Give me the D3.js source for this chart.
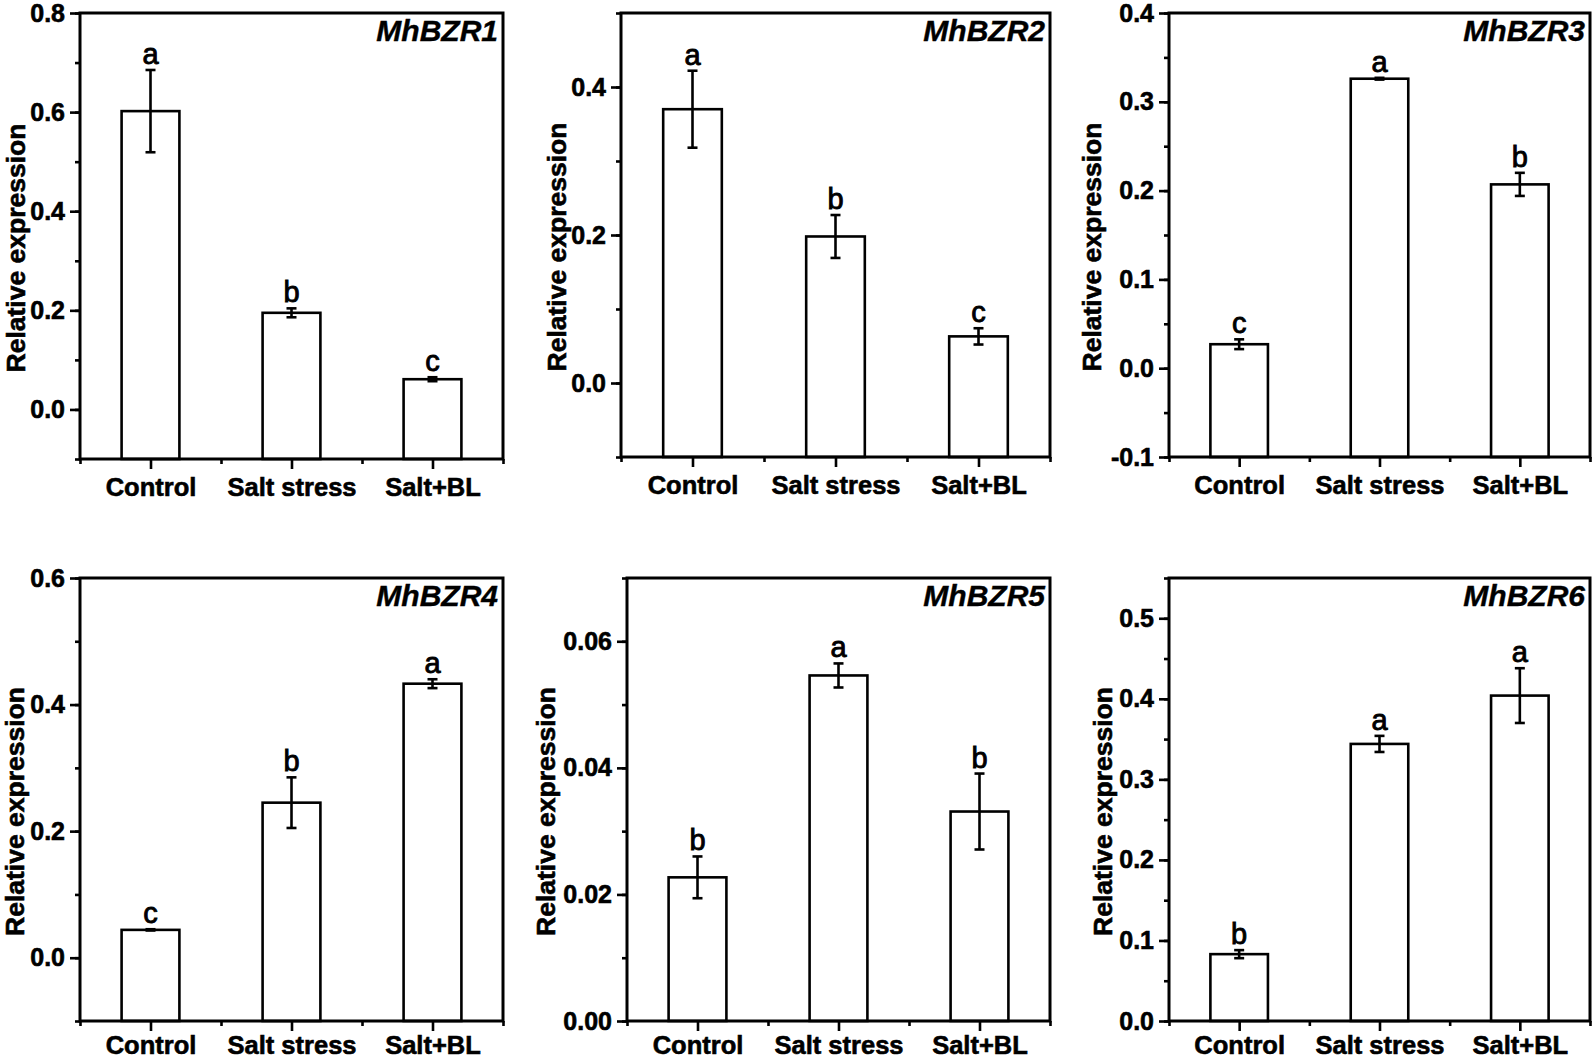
<!DOCTYPE html>
<html>
<head>
<meta charset="utf-8">
<script src="https://cdn.jsdelivr.net/npm/d3@7"></script>
<style>
  body { margin: 0; background: #fff; }
  text { font-family: "Liberation Sans", Arial, sans-serif; }
</style>
</head>
<body>
<div id="chart"></div>
<script>
// values
var categories = ["Control", "Salt stress", "Salt+BL"];
var genes = ["MhBZR1", "MhBZR2", "MhBZR3", "MhBZR4", "MhBZR5", "MhBZR6"];

var means = [
  [0.602, 0.195, 0.061],
  [0.370, 0.198, 0.063],
  [0.027, 0.326, 0.207],
  [0.044, 0.245, 0.433],
  [0.0227, 0.0546, 0.0331],
  [0.083, 0.344, 0.404]
];
var errors = [
  [0.083, 0.009, 0.004],
  [0.052, 0.029, 0.011],
  [0.0055, 0.001, 0.013],
  [0.001, 0.040, 0.007],
  [0.0033, 0.0019, 0.006],
  [0.005, 0.010, 0.034]
];
var letters = [
  ["a", "b", "c"],
  ["a", "b", "c"],
  ["c", "a", "b"],
  ["c", "b", "a"],
  ["b", "a", "b"],
  ["b", "a", "a"]
];
var yDomains = [[-0.1, 0.8], [-0.1, 0.5], [-0.1, 0.4], [-0.1, 0.6], [0, 0.07], [0, 0.55]];
var yTickLabels = [
  ["0.0", "0.2", "0.4", "0.6", "0.8"],
  ["0.0", "0.2", "0.4"],
  ["-0.1", "0.0", "0.1", "0.2", "0.3", "0.4"],
  ["0.0", "0.2", "0.4", "0.6"],
  ["0.00", "0.02", "0.04", "0.06"],
  ["0.0", "0.1", "0.2", "0.3", "0.4", "0.5"]
];
var minorSteps = [0.1, 0.1, 0.05, 0.1, 0.01, 0.05];

// panel frames in page pixels
var frames = [
  {x0: 80,   x1: 503,  y0: 13,  y1: 459,  lab: 55, pad: 8.5},
  {x0: 621,  x1: 1050, y0: 13,  y1: 457,  lab: 55, pad: 8.5},
  {x0: 1169, x1: 1590, y0: 13,  y1: 457,  lab: 68, pad: 8.5},
  {x0: 80,   x1: 503,  y0: 578, y1: 1021, lab: 56, pad: 5},
  {x0: 627,  x1: 1050, y0: 578, y1: 1021, lab: 72, pad: 5},
  {x0: 1169, x1: 1590, y0: 578, y1: 1021, lab: 57, pad: 5}
];

var svg = d3.select("#chart")
            .append("svg")
            .attr("width", 1594)
            .attr("height", 1060);

function boldText(sel, size) {
    sel.attr("font-size", size)
       .attr("font-weight", "bold")
       .attr("font-family", "Liberation Sans, Arial, sans-serif")
       .attr("fill", "#000")
       .attr("stroke", "#000")
       .attr("stroke-width", 0.6);
}

genes.forEach(function(gene, p) {
    var f = frames[p];
    var g = svg.append("g");

    var x = d3.scaleLinear().domain([0.5, 3.5]).range([f.x0, f.x1]);
    var y = d3.scaleLinear().domain(yDomains[p]).range([f.y1, f.y0]);
    var barW = 0.41 * (f.x1 - f.x0) / 3;

    var majors = yTickLabels[p].map(Number);
    var d0 = yDomains[p][0], d1 = yDomains[p][1], st = minorSteps[p];
    var minors = d3.range(0, Math.round((d1 - d0) / st) + 1).map(function(i) {
        return +(d0 + i * st).toFixed(4);
    });

    // minor y ticks
    g.append("g")
     .attr("transform", "translate(" + f.x0 + ",0)")
     .call(d3.axisLeft(y).tickValues(minors).tickSize(5).tickFormat(""))
     .call(function(a) { a.select(".domain").remove(); });

    // major y ticks
    var ya = g.append("g")
     .attr("transform", "translate(" + f.x0 + ",0)")
     .call(d3.axisLeft(y).tickValues(majors).tickSize(10).tickPadding(5)
           .tickFormat(function(d, i) { return yTickLabels[p][i]; }));
    ya.select(".domain").remove();
    boldText(ya.selectAll("text"), "25px");

    // x ticks
    g.append("g")
     .attr("transform", "translate(0," + f.y1 + ")")
     .call(d3.axisBottom(x).tickValues([0.5, 1.5, 2.5, 3.5]).tickSize(5).tickFormat(""))
     .call(function(a) { a.select(".domain").remove(); });
    var xa = g.append("g")
     .attr("transform", "translate(0," + f.y1 + ")")
     .call(d3.axisBottom(x).tickValues([1, 2, 3]).tickSize(10).tickPadding(f.pad)
           .tickFormat(function(d) { return categories[d - 1]; }));
    xa.select(".domain").remove();
    boldText(xa.selectAll("text"), "25.5px");

    g.selectAll(".tick line")
     .attr("stroke", "#000")
     .attr("stroke-width", 2.6);

    // bars
    g.selectAll("rect.bar")
     .data(means[p])
     .enter()
     .append("rect")
     .attr("class", "bar")
     .attr("x", function(d, i) { return x(i + 1) - barW / 2; })
     .attr("y", function(d) { return y(d); })
     .attr("width", barW)
     .attr("height", function(d) { return f.y1 - y(d); })
     .attr("fill", "#fff")
     .attr("stroke", "#000")
     .attr("stroke-width", 2.6);

    // error bars
    var eb = g.selectAll("g.err")
              .data(means[p])
              .enter()
              .append("g")
              .attr("stroke", "#000")
              .attr("stroke-width", 2.6);
    eb.append("line")
      .attr("x1", function(d, i) { return x(i + 1); })
      .attr("x2", function(d, i) { return x(i + 1); })
      .attr("y1", function(d, i) { return y(d + errors[p][i]); })
      .attr("y2", function(d, i) { return y(d - errors[p][i]); });
    [1, -1].forEach(function(sgn) {
        eb.append("line")
          .attr("x1", function(d, i) { return x(i + 1) - 5; })
          .attr("x2", function(d, i) { return x(i + 1) + 5; })
          .attr("y1", function(d, i) { return y(d + sgn * errors[p][i]); })
          .attr("y2", function(d, i) { return y(d + sgn * errors[p][i]); });
    });

    // significance letters
    g.selectAll("text.sig")
     .data(means[p])
     .enter()
     .append("text")
     .attr("class", "sig")
     .text(function(d, i) { return letters[p][i]; })
     .attr("x", function(d, i) { return x(i + 1); })
     .attr("y", function(d, i) { return y(d + errors[p][i]) - 6; })
     .attr("text-anchor", "middle")
     .attr("font-size", "29px")
     .attr("fill", "#000")
     .attr("stroke", "#000")
     .attr("stroke-width", 0.9);

    // frame
    g.append("rect")
     .attr("x", f.x0)
     .attr("y", f.y0)
     .attr("width", f.x1 - f.x0)
     .attr("height", f.y1 - f.y0)
     .attr("fill", "none")
     .attr("stroke", "#000")
     .attr("stroke-width", 3);

    // gene name
    g.append("text")
     .text(gene)
     .attr("x", f.x1 - 5)
     .attr("y", f.y0 + 28)
     .attr("text-anchor", "end")
     .attr("font-size", "30px")
     .attr("font-weight", "bold")
     .attr("font-style", "italic")
     .attr("fill", "#000")
     .attr("stroke", "#000")
     .attr("stroke-width", 0.4);

    // y label
    var cy = (f.y0 + f.y1) / 2 + 12;
    var yl = g.append("text")
     .text("Relative expression")
     .attr("transform", "translate(" + (f.x0 - f.lab) + "," + cy + ") rotate(-90)")
     .attr("text-anchor", "middle");
    boldText(yl, "26.5px");
});
</script>
</body>
</html>
